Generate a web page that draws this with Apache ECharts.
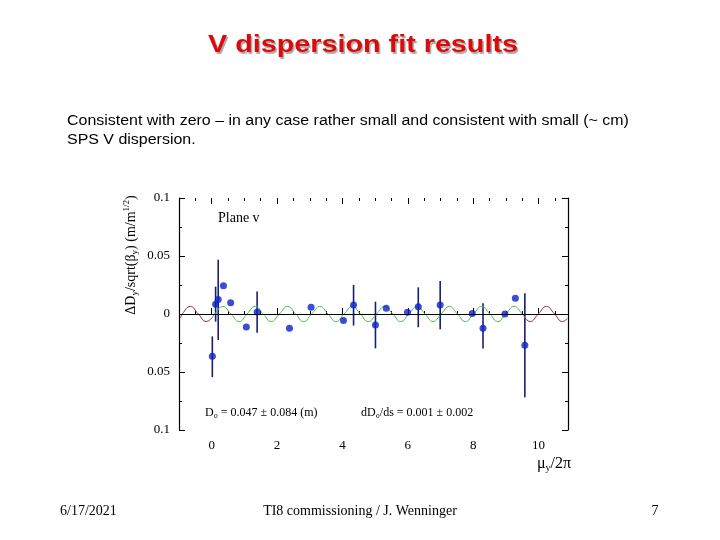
<!DOCTYPE html>
<html>
<head>
<meta charset="utf-8">
<script src="https://cdn.jsdelivr.net/npm/echarts@6/dist/echarts.min.js"></script>
<style>
html,body{margin:0;padding:0;background:#fff;}
#chart{width:720px;height:540px;}
</style>
</head>
<body>
<div id="chart"></div>
<script>
// ---- data ----
const muValues   = [0.02, 0.12, 0.20, 0.36, 0.58, 1.06, 1.39, 2.38, 3.04, 4.03, 4.34, 5.01, 5.34, 5.99, 6.32, 6.99, 7.97, 8.30, 8.97, 9.29, 9.58];
const dispValues = [-0.0365, 0.0085, 0.0125, 0.0244, 0.0098, -0.0113, 0.0018, -0.0122, 0.0058, -0.0057, 0.0077, -0.0094, 0.0050, 0.0016, 0.0063, 0.0078, 0.0005, -0.0122, 0.0, 0.0136, -0.0270];
const errValues  = [0.0175, 0.0151, 0.0346, 0, 0, 0, 0.0177, 0, 0, 0, 0.0175, 0.0201, 0, 0, 0.0172, 0.0208, 0, 0.0195, 0, 0, 0.0448];
const errCenters = [-0.0368, 0.0085, 0.0122, 0, 0, 0, 0.0016, 0, 0, 0, 0.0075, -0.0095, 0, 0, 0.0058, 0.0076, 0, -0.0102, 0, 0, -0.0270];

const fitGreen = [[0.02,-0.0029],[0.09,0],[0.34,0.0065],[0.59,0],[0.84,-0.0065],[1.08,0],[1.33,0.0065],[1.58,0],[1.82,-0.0065],[2.07,0],[2.32,0.0065],[2.57,0],[2.81,-0.0065],[3.06,0],[3.31,0.0065],[3.56,0],[3.80,-0.0065],[4.05,0],[4.30,0.0065],[4.55,0],[4.79,-0.0065],[5.04,0],[5.29,0.0065],[5.54,0],[5.78,-0.0065],[6.03,0],[6.28,0.0065],[6.53,0],[6.77,-0.0065],[7.02,0],[7.27,0.0065],[7.52,0],[7.76,-0.0065],[8.01,0],[8.26,0.0065],[8.51,0],[8.75,-0.0065],[9.00,0],[9.25,0.0065],[9.50,0],[9.58,-0.0033]];
const fitRedLeft  = [[-0.95,-0.0035],[-0.90,0],[-0.65,0.0065],[-0.41,0],[-0.16,-0.0065],[0.02,-0.0029]];
const fitRedRight = [[9.58,-0.0033],[9.74,-0.0065],[9.99,0],[10.24,0.0065],[10.49,0],[10.73,-0.0065],[10.88,-0.0040]];

const xMajorTicks = [0, 2, 4, 6, 8, 10];
const yTickLabels = ['0.1', '0.05', '0', '0.05', '0.1'];

const titleText = 'V dispersion fit results';
const bodyLine1 = 'Consistent with zero \u2013 in any case rather small and consistent with small (~ cm)';
const bodyLine2 = 'SPS V dispersion.';
const planeText = 'Plane v';
const fitText1 = 'D\u2080 = 0.047 \u00b1 0.084 (m)';
const fitText2 = 'dD\u2080/ds = 0.001 \u00b1 0.002';
const footerLeft = '6/17/2021';
const footerCenter = 'TI8 commissioning / J. Wenninger';
const footerRight = '7';

// ---- chart ----
const chart = echarts.init(document.getElementById('chart'), null, {renderer: 'canvas'});
const serif = 'Liberation Serif';
const XMIN = -1, XMAX = 10.9;

function xAxisDef(pos, major) {
  const base = {
    type: 'value', min: XMIN, max: XMAX, position: pos,
    axisLine: {show: false}, splitLine: {show: false}
  };
  if (major) {
    base.axisTick = {show: true, inside: true, length: 6, customValues: xMajorTicks, lineStyle: {color: '#000', width: 1}};
    base.axisLabel = pos === 'bottom'
      ? {show: true, customValues: xMajorTicks, margin: 9, fontFamily: serif, fontSize: 13, color: '#000'}
      : {show: false};
  } else {
    base.interval = 0.5;
    base.axisTick = {show: true, inside: true, length: 3, lineStyle: {color: '#000', width: 1}};
    base.axisLabel = {show: false};
  }
  return base;
}

function yAxisDef(pos) {
  return {
    type: 'value', min: -0.1, max: 0.1, interval: 0.05, position: pos,
    axisLine: {show: true, onZero: false, lineStyle: {color: '#000', width: 1.2}},
    axisTick: {show: true, inside: true, length: 6, lineStyle: {color: '#000'}},
    minorTick: {show: true, splitNumber: 2, length: 3, lineStyle: {color: '#000'}},
    splitLine: {show: false},
    axisLabel: pos === 'left' ? {
      show: true, margin: 9, fontFamily: serif, fontSize: 13, color: '#000',
      formatter: function (v) { const i = Math.round((0.1 - v) / 0.05); return yTickLabels[i] !== undefined ? yTickLabels[i] : ''; }
    } : {show: false}
  };
}

const pointData = muValues.map((m, i) => [m, dispValues[i]]);
const barData = [];
muValues.forEach((m, i) => { if (errValues[i] > 0) barData.push([m, errCenters[i] - errValues[i], errCenters[i] + errValues[i]]); });

const option = {
  animation: false,
  backgroundColor: '#ffffff',
  grid: {left: 179, right: 152, top: 198, bottom: 110},
  xAxis: [xAxisDef('bottom', true), xAxisDef('bottom', false), xAxisDef('top', true), xAxisDef('top', false)],
  yAxis: [yAxisDef('left'), yAxisDef('right')],
  series: [
    {
      type: 'line', data: fitRedLeft, xAxisIndex: 0, yAxisIndex: 0, smooth: 0.5, showSymbol: false, silent: true,
      lineStyle: {color: '#a02a2a', width: 1}
    },
    {
      type: 'line', data: fitRedRight, xAxisIndex: 0, yAxisIndex: 0, smooth: 0.5, showSymbol: false, silent: true,
      lineStyle: {color: '#a02a2a', width: 1}
    },
    {
      type: 'line', data: fitGreen, xAxisIndex: 0, yAxisIndex: 0, smooth: 0.5, showSymbol: false, silent: true,
      lineStyle: {color: '#4cbc4c', width: 1},
      markLine: {
        silent: true, symbol: 'none', label: {show: false},
        lineStyle: {color: '#000', width: 1.2, type: 'solid'},
        data: [{yAxis: 0}]
      }
    },
    {
      type: 'custom', xAxisIndex: 0, yAxisIndex: 0, data: barData, silent: true,
      renderItem: function (params, api) {
        const p1 = api.coord([api.value(0), api.value(1)]);
        const p2 = api.coord([api.value(0), api.value(2)]);
        return {type: 'line', shape: {x1: p1[0], y1: p1[1], x2: p2[0], y2: p2[1]},
                style: {stroke: '#16206e', lineWidth: 1.6}};
      },
      z: 3
    },
    {
      type: 'scatter', data: pointData, xAxisIndex: 0, yAxisIndex: 0, symbol: 'circle', symbolSize: 7,
      itemStyle: {color: '#0d1fc9'}, z: 4
    }
  ],
  graphic: [
    {type: 'text', x: 363, y: 46, scaleX: 1.25, style: {text: titleText, align: 'center', verticalAlign: 'middle',
      font: 'bold 23px "Liberation Sans", Arial, sans-serif', fill: '#dc0a0a',
      textShadowColor: 'rgba(0,0,0,0.35)', textShadowOffsetX: 1.5, textShadowOffsetY: 1.5, textShadowBlur: 1}},
    {type: 'text', x: 67, y: 121, scaleX: 1.14, style: {text: bodyLine1, align: 'left', verticalAlign: 'middle',
      font: '14px "Liberation Sans", Arial, sans-serif', fill: '#000'}},
    {type: 'text', x: 67, y: 140, scaleX: 1.14, style: {text: bodyLine2, align: 'left', verticalAlign: 'middle',
      font: '14px "Liberation Sans", Arial, sans-serif', fill: '#000'}},
    {type: 'text', x: 131, y: 255, rotation: Math.PI / 2, style: {
      text: '{a|\u0394D}{s|y}{a|/sqrt(\u03b2}{s|y}{a|) (m/m}{p|1/2}{a|)}',
      align: 'center', verticalAlign: 'middle',
      rich: {
        a: {fontFamily: serif, fontSize: 14, fill: '#000', lineHeight: 17, verticalAlign: 'middle'},
        s: {fontFamily: serif, fontSize: 9, fill: '#000', lineHeight: 17, verticalAlign: 'bottom'},
        p: {fontFamily: serif, fontSize: 9, fill: '#000', lineHeight: 17, verticalAlign: 'top'}
      }}},
    {type: 'text', x: 218, y: 218, style: {text: planeText, align: 'left', verticalAlign: 'middle',
      font: '14px "Liberation Serif", serif', fill: '#000'}},
    {type: 'text', x: 205, y: 413, style: {text: fitText1, align: 'left', verticalAlign: 'middle',
      font: '12px "Liberation Serif", serif', fill: '#000'}},
    {type: 'text', x: 361, y: 413, style: {text: fitText2, align: 'left', verticalAlign: 'middle',
      font: '12px "Liberation Serif", serif', fill: '#000'}},
    {type: 'text', x: 537, y: 464, style: {
      text: '{a|\u03bc}{s|y}{a|/2\u03c0}', align: 'left', verticalAlign: 'middle',
      rich: {
        a: {fontFamily: serif, fontSize: 16, fill: '#000', lineHeight: 19, verticalAlign: 'middle'},
        s: {fontFamily: serif, fontSize: 10, fill: '#000', lineHeight: 19, verticalAlign: 'bottom'}
      }}},
    {type: 'text', x: 60, y: 511, style: {text: footerLeft, align: 'left', verticalAlign: 'middle',
      font: '14px "Liberation Serif", serif', fill: '#000'}},
    {type: 'text', x: 360, y: 511, style: {text: footerCenter, align: 'center', verticalAlign: 'middle',
      font: '14px "Liberation Serif", serif', fill: '#000'}},
    {type: 'text', x: 655, y: 511, style: {text: footerRight, align: 'center', verticalAlign: 'middle',
      font: '14px "Liberation Serif", serif', fill: '#000'}}
  ]
};
chart.setOption(option);
</script>
</body>
</html>
